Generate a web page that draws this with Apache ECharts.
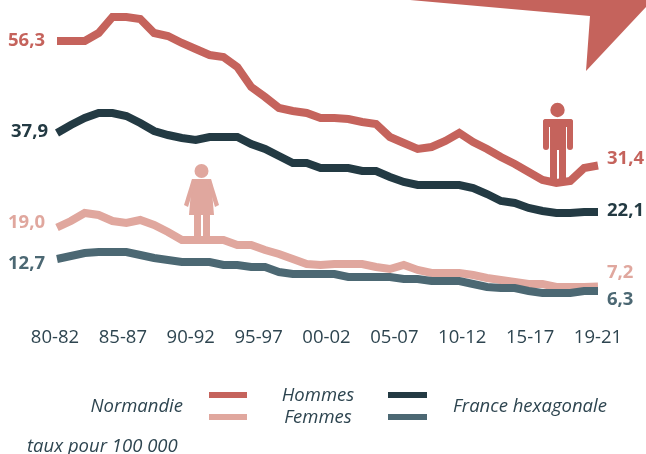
<!DOCTYPE html>
<html><head><meta charset="utf-8">
<style>html,body{margin:0;padding:0;background:#fff}#c{width:646px;height:454px}</style>
<script src="https://cdn.jsdelivr.net/npm/echarts@6/dist/echarts.min.js"></script>
</head><body><div id="c"></div>
<script>
const periods = ["80-82","81-83","82-84","83-85","84-86","85-87","86-88","87-89","88-90","89-91","90-92","91-93","92-94","93-95","94-96","95-97","96-98","97-99","98-00","99-01","00-02","01-03","02-04","03-05","04-06","05-07","06-08","07-09","08-10","09-11","10-12","11-13","12-14","13-15","14-16","15-17","16-18","17-19","18-20","19-21"];
const tickLabels = ["80-82","85-87","90-92","95-97","00-02","05-07","10-12","15-17","19-21"];
const normandieHommes = [56.3,56.3,56.3,57.9,61.1,61.1,60.7,57.9,57.3,55.9,54.7,53.5,53.1,51.1,47.1,45.1,42.9,42.3,41.9,40.9,40.9,40.7,40.1,39.7,37.1,35.9,34.7,35.1,36.3,37.9,36.1,34.7,33.1,31.7,30.1,28.5,27.9,28.3,30.9,31.4];
const franceHommes = [37.9,39.5,40.9,41.9,41.9,41.3,39.9,38.3,37.5,36.9,36.5,37.1,37.1,37.1,35.7,34.7,33.3,31.9,31.9,30.9,30.9,30.9,30.3,30.3,29.1,28.1,27.5,27.5,27.5,27.5,26.9,25.7,24.3,23.9,22.9,22.3,21.9,21.9,22.1,22.1];
const normandieFemmes = [19.0,20.3,21.9,21.5,20.3,19.9,20.5,19.5,18.1,16.5,16.5,16.5,16.5,15.5,15.5,14.5,13.7,12.7,11.7,11.5,11.7,11.7,11.7,11.1,10.7,11.5,10.5,9.9,9.9,9.9,9.5,8.9,8.5,8.1,7.7,7.7,7.1,7.1,7.1,7.2];
const franceFemmes = [12.7,13.3,13.9,14.1,14.1,14.1,13.5,12.9,12.5,12.1,12.1,12.1,11.5,11.5,11.1,11.1,10.1,9.7,9.7,9.7,9.7,9.1,9.1,9.1,9.1,8.7,8.7,8.3,8.3,8.3,7.7,7.1,6.9,6.9,6.3,5.9,5.9,5.9,6.3,6.3];

const C = {h:'#C5635C', f:'#E0A79E', dh:'#233A43', df:'#4C6873', t:'#2E4550'};
const FONT = '"Open Sans"';
const fmt = v => v.toFixed(1).replace('.', ',');

function mk(name, arr, color, dxL, dyL, dyR, z) {
  const last = arr.length - 1;
  const lab = (align, dx, dy) => ({show:true, position:[dx,dy], align, verticalAlign:'middle',
    color, fontFamily:FONT, fontWeight:700, fontSize:18.5, formatter:p => fmt(p.value)});
  return {
    name, type:'line', xAxisIndex:0, yAxisIndex:0, z, symbol:'none', showSymbol:true, smooth:false,
    lineStyle:{color, width:8, cap:'butt', join:'miter'}, itemStyle:{color},
    emphasis:{disabled:true},
    data: arr.map((v,i) => {
      if (i === 0) return {value:v, symbol:'circle', symbolSize:0, label:lab('right', dxL, dyL)};
      if (i === last) return {value:v, symbol:'circle', symbolSize:0, label:lab('left', 9, dyR)};
      return v;
    })
  };
}

const txt = (x,y,text,align) => ({type:'text', z:20, style:{x,y,text,align:align||'left',verticalAlign:'middle',
  fill:C.t, font:'italic 18.5px '+FONT}});
const seg = (x,y,w,fill) => ({type:'rect', z:20, shape:{x,y:y-3,width:w,height:6}, style:{fill}});
const rect = (x,y,w,h,fill,r) => ({type:'rect', z:20, shape:{x,y,width:w,height:h,r:r||0}, style:{fill}});
const poly = (points,fill) => ({type:'polygon', z:20, shape:{points}, style:{fill}});
const circ = (cx,cy,r,fill) => ({type:'circle', z:20, shape:{cx,cy,r}, style:{fill}});

const chart = echarts.init(document.getElementById('c'), null, {renderer:'canvas'});
chart.setOption({
  animation:false,
  backgroundColor:'#fff',
  grid:[
    {left:57, right:48, top:2.5, height:320},
    {left:55, right:48, top:2.5, height:320}
  ],
  xAxis:[
    {type:'category', gridIndex:0, data:periods, boundaryGap:false, axisLine:{show:false}, axisTick:{show:false}, axisLabel:{show:false}, splitLine:{show:false}},
    {type:'category', gridIndex:1, data:tickLabels, boundaryGap:false, axisLine:{show:false}, axisTick:{show:false}, splitLine:{show:false},
     axisLabel:{show:true, interval:0, margin:6, color:C.t, fontFamily:FONT, fontSize:18.5}}
  ],
  yAxis:[
    {type:'value', gridIndex:0, min:0, max:64, show:false},
    {type:'value', gridIndex:1, min:0, max:64, show:false}
  ],
  series:[
    mk('Normandie Femmes', normandieFemmes, C.f, -12, -5, -14, 2),
    mk('France hexagonale Femmes', franceFemmes, C.df, -12, 5, 9, 3),
    mk('Normandie Hommes', normandieHommes, C.h, -12, 0, -7, 4),
    mk('France hexagonale Hommes', franceHommes, C.dh, -9, -1, -1, 5)
  ],
  graphic:[
    poly([[410,0],[590,16],[586,71],[646,7],[646,0]], C.h),
    // homme
    circ(557.5,110,7.2,C.h),
    rect(543,119,30,8,C.h,3),
    rect(543,119,6,31,C.h,3),
    rect(567,119,6,31,C.h,3),
    rect(550,119,16,31,C.h),
    rect(550,150,7,29,C.h),
    rect(559,150,7,29,C.h),
    // femme
    circ(201.5,171,7,C.f),
    poly([[192,179],[211,179],[214,215],[189,215]], C.f),
    poly([[192,179],[196,181],[188,207],[184,205]], C.f),
    poly([[211,179],[207,181],[215,207],[219,205]], C.f),
    rect(194,215,7,25,C.f),
    rect(203,215,7,25,C.f),
    // légende
    txt(183,406.5,'Normandie','right'),
    seg(209,395,38,C.h),
    seg(209,417,38,C.f),
    txt(318,396,'Hommes','center'),
    txt(318,418,'Femmes','center'),
    seg(388,395,39,C.dh),
    seg(388,417,39,C.df),
    txt(453,406.5,'France hexagonale'),
    txt(27,447,'taux pour 100 000')
  ]
});
</script></body></html>
